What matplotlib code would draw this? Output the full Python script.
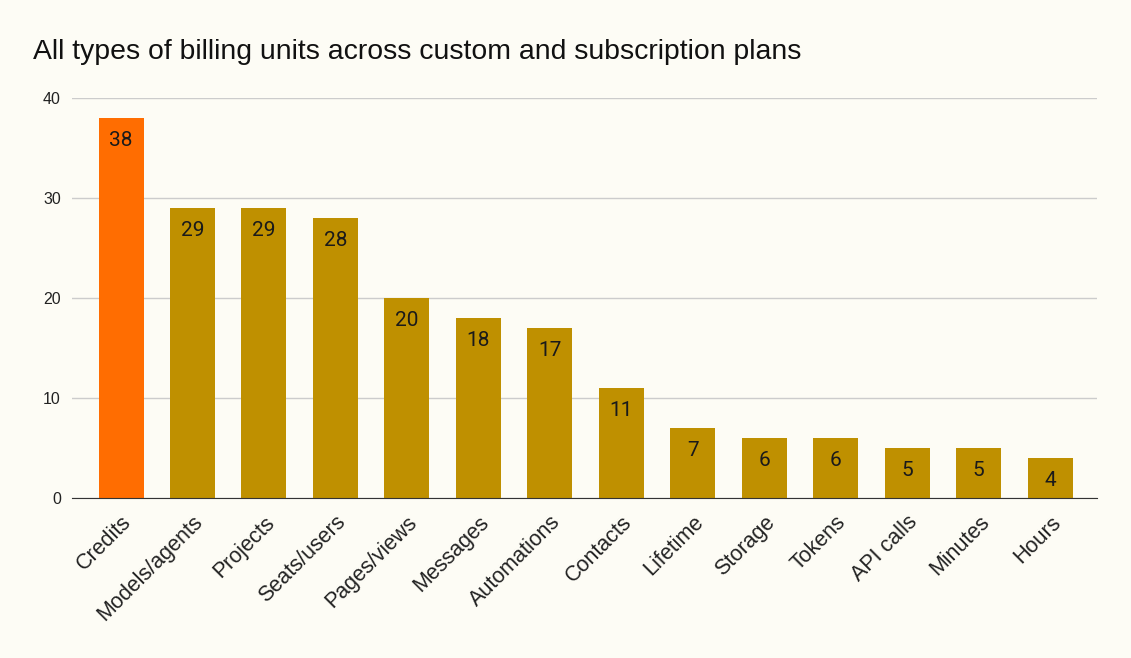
import matplotlib.pyplot as plt
import numpy as np

categories = ["Credits", "Models/agents", "Projects", "Seats/users", "Pages/views",
              "Messages", "Automations", "Contacts", "Lifetime", "Storage",
              "Tokens", "API calls", "Minutes", "Hours"]
counts = [38, 29, 29, 28, 20, 18, 17, 11, 7, 6, 6, 5, 5, 4]
highlight = "Credits"

bg = "#fdfcf5"
gold = "#bf9000"
orange = "#ff6d01"

plt.rcParams['font.family'] = ['Liberation Sans', 'DejaVu Sans']

fig = plt.figure(figsize=(11.31, 6.58), dpi=100, facecolor=bg)
ax = fig.add_axes([0.0637, 0.2432, 0.9063, 0.6078])
ax.set_facecolor(bg)

x = np.arange(len(categories))
colors = [orange if c == highlight else gold for c in categories]
bars = ax.bar(x, counts, width=0.63, color=colors, zorder=3)

for b, v in zip(bars, counts):
    ax.annotate(str(v), (b.get_x() + b.get_width() / 2, v), xytext=(0, -16.5),
                textcoords="offset points", ha="center", va="center",
                fontsize=15, color="#1a1a1a", family=["Roboto", "DejaVu Sans"], zorder=4)

ax.set_xlim(-0.686, len(categories) - 1 + 0.658)
ax.set_ylim(0, 40)
ax.set_yticks([0, 10, 20, 30, 40])
ax.yaxis.grid(True, color="#cccccc", linewidth=1, zorder=0)
ax.tick_params(axis="y", length=0, labelsize=11.5, pad=8, labelcolor="#222222")
ax.tick_params(axis="x", length=0, labelsize=15.5, pad=10, labelcolor="#222222")
ax.set_xticks(x)
ax.set_xticklabels(categories, rotation=45, ha="right", rotation_mode="anchor")

for s in ["top", "right", "left"]:
    ax.spines[s].set_visible(False)
ax.spines["bottom"].set_color("#333333")
ax.spines["bottom"].set_zorder(5)

fig.text(0.029, 0.921, "All types of billing units across custom and subscription plans",
         fontsize=20.4, color="#111111", va="center", ha="left")

fig.savefig("out.png", dpi=100, facecolor=bg)
